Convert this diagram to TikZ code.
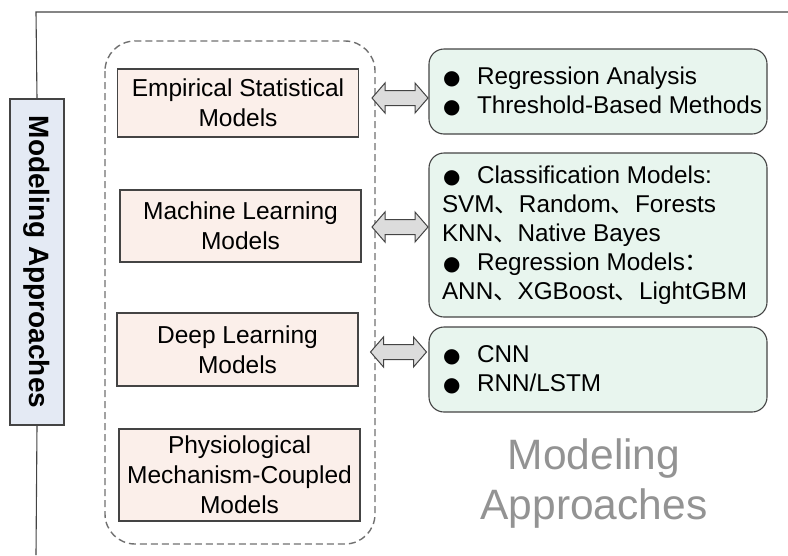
\documentclass[tikz,border=0pt]{standalone}
\usepackage{fontspec}
\setmainfont{Liberation Sans}
\newfontfamily\cjk{Noto Sans CJK SC}
\newfontfamily\dejavu{DejaVu Sans}
\definecolor{modfill}{HTML}{FBEFEA}
\definecolor{rfill}{HTML}{E8F5EE}
\definecolor{labfill}{HTML}{E4EAF4}
\definecolor{edge}{HTML}{444444}
\definecolor{dashc}{HTML}{707070}
\definecolor{arrfill}{HTML}{DCDCDC}
\newcommand\bul{\makebox[35pt][l]{\hspace{1pt}{\dejavu\fontsize{20}{20}\selectfont ●}}}
\newcommand\ic{{\cjk 、}}
\begin{document}
\begin{tikzpicture}[x=1pt,y=-1pt,
  modbox/.style={draw=edge,fill=modfill,line width=1.1pt,align=center,inner sep=0pt,
    font=\fontsize{24.5}{30}\selectfont,minimum width=241pt},
  rbox/.style={draw=edge,fill=rfill,line width=1.1pt,rounded corners=15pt,align=flush left,
    inner xsep=13pt,inner ysep=0pt,text width=312pt,minimum width=338pt,
    font=\fontsize{24.3}{29}\selectfont},
  arr/.style={draw=edge,fill=arrfill,line width=1pt,line join=miter},
  frame/.style={draw=edge,line width=1.1pt}]
\useasboundingbox (0,0) rectangle (788,555);
% outer frame and side label
\node[draw=edge,fill=labfill,line width=1.1pt,rotate=-90,minimum width=326pt,minimum height=54pt,
  inner sep=0pt,font=\fontsize{28}{32}\selectfont\bfseries] (lab) at (37,262) {Modeling Approaches};
\coordinate (tl) at (36,12);
\coordinate (tr) at (788,12);
\coordinate (bl) at (36,555);
\draw[frame] (lab.west) -- (tl) -- (tr);
\draw[frame] (lab.east) -- (bl);
% dashed group
\draw[dashc,line width=1.4pt,dash pattern=on 7pt off 4pt,rounded corners=30pt] (105,41) rectangle (375,544);
% model boxes
\node[modbox,minimum height=68pt] (m1) at (238,103) {Empirical Statistical\\Models};
\node[modbox,minimum height=72pt] (m2) at (240.5,226) {Machine Learning\\Models};
\node[modbox,minimum height=73pt] (m3) at (237.5,349.5) {Deep Learning\\Models};
\node[modbox,minimum height=92pt] (m4) at (239.5,475) {Physiological\\Mechanism-Coupled\\Models};
% right boxes
\node[rbox,minimum height=85pt] (r1) at (598,91.5) {\mbox{\bul Regression Analysis}\\\mbox{\bul Threshold-Based Methods}};
\node[rbox,minimum height=164pt] (r2) at (598,235) {\mbox{\bul Classification Models:}\\\mbox{SVM\ic Random\ic Forests}\\\mbox{KNN\ic Native Bayes}\\\mbox{\bul Regression Models{\cjk ：}}\\\mbox{ANN\ic XGBoost\ic LightGBM}};
\node[rbox,minimum height=85pt] (r3) at (598,369.5) {\mbox{\bul CNN}\\\mbox{\bul RNN/LSTM}};
% double arrows between model boxes and right boxes
\coordinate (a1) at (400,98);
\coordinate (a2) at (400,227);
\coordinate (a3) at (398.5,352);
\foreach \c in {a1,a2,a3}{
  \draw[arr] (\c) ++(-28,0) -- ++(13,-15) -- ++(0,7.5) -- ++(30,0) -- ++(0,-7.5) -- ++(13,15)
    -- ++(-13,15) -- ++(0,-7.5) -- ++(-30,0) -- ++(0,7.5) -- cycle;
}
% watermark title
\node[text=gray!85,align=center,font=\fontsize{42.5}{50}\selectfont] (wm) at (594,484) {Modeling\\Approaches};
\end{tikzpicture}
\end{document}
